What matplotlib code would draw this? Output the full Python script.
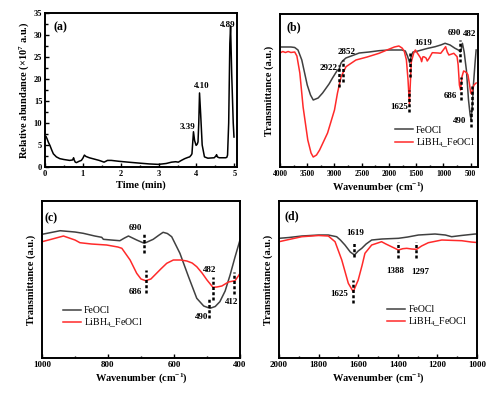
import matplotlib
matplotlib.use("Agg")
import matplotlib.pyplot as plt
from matplotlib.ticker import MultipleLocator, NullFormatter

plt.rcParams['font.family'] = ['Liberation Serif', 'DejaVu Serif']
plt.rcParams['mathtext.fontset'] = 'custom'
plt.rcParams['mathtext.rm'] = 'Liberation Serif'
plt.rcParams['mathtext.bf'] = 'Liberation Serif:bold'
plt.rcParams['mathtext.it'] = 'Liberation Serif:italic'

# ---------------- data ----------------
# (a) chromatogram
time_min = [0.0, 0.02, 0.05, 0.09, 0.13, 0.18, 0.22, 0.3, 0.39, 0.5, 0.65, 0.73, 0.755, 0.77, 0.8,
            0.83, 0.9, 0.96, 1.0, 1.04, 1.08, 1.17, 1.3, 1.43, 1.56, 1.65, 1.75, 1.95, 2.2, 2.47,
            2.75, 2.99, 3.1, 3.2, 3.34, 3.45, 3.52, 3.6, 3.69, 3.78, 3.82, 3.86, 3.88, 3.9, 3.92,
            3.95, 3.99, 4.02, 4.04, 4.06, 4.08, 4.11, 4.15, 4.21, 4.30, 4.47, 4.52, 4.53, 4.55,
            4.60, 4.77, 4.8, 4.82, 4.85, 4.88, 4.9, 4.93, 4.97, 4.99]
abundance = [6.8, 7.0, 6.5, 5.6, 4.9, 3.8, 3.0, 2.3, 1.9, 1.7, 1.5, 1.6, 2.1, 1.6, 1.1,
             1.0, 1.3, 1.5, 2.0, 2.7, 2.4, 2.1, 1.8, 1.5, 1.1, 1.5, 1.5, 1.3, 1.1, 0.9,
             0.7, 0.6, 0.7, 0.8, 1.1, 1.2, 1.1, 1.5, 1.9, 2.2, 2.3, 2.7, 3.0, 5.5, 8.0,
             6.0, 4.9, 5.2, 5.7, 10.0, 16.8, 12.0, 5.0, 2.3, 2.0, 2.1, 2.6, 2.8, 2.3,
             2.1, 2.1, 2.2, 2.7, 10.0, 28.0, 32.0, 21.0, 10.0, 6.8]
peak_times = [3.39, 4.10, 4.89]
peak_label_pos = [(3.76, 9.0), (4.14, 18.3), (4.82, 32.2)]

# (b) full FTIR 4000-400
b_wn_feocl = [3990, 3800, 3730, 3670, 3600, 3500, 3440, 3390, 3300, 3218, 3100, 3036, 2945, 2922,
              2900, 2879, 2852, 2790, 2727, 2545, 2364, 2182, 2000, 1855, 1764, 1700, 1660, 1619,
              1590, 1560, 1515, 1400, 1300, 1152, 1050, 970, 879, 788, 727, 690, 670, 652, 620,
              579, 540, 510, 490, 470, 450, 420, 400]
b_t_feocl = [120, 120, 119.5, 117, 107, 82, 72, 67, 69, 74, 83, 89, 97, 96,
             101, 104, 106, 109, 110.3, 114, 115, 116.3, 117, 117, 117, 116, 111, 104,
             111, 115, 115.3, 117, 118.5, 120.3, 122, 123.7, 122, 118.7, 117, 115, 119, 123.7, 115,
             97, 67, 52, 47, 62, 82, 104, 117]
b_wn_li = [3990, 3950, 3900, 3850, 3800, 3730, 3690, 3636, 3576, 3490, 3430, 3390, 3330, 3273, 3127,
           3000, 2945, 2879, 2788, 2606, 2400, 2182, 2036, 1900, 1818, 1760, 1720, 1680, 1650,
           1625, 1605, 1590, 1570, 1540, 1515, 1480, 1455, 1420, 1400, 1380, 1360, 1320, 1297,
           1260, 1205, 1100, 1050, 990, 960, 930, 900, 810, 750, 730, 707, 686, 670, 660, 630,
           600, 570, 550, 520, 500, 482, 460, 440, 400]
b_t_li = [114.3, 115.5, 114.5, 115.5, 114.5, 115, 111, 94, 60, 27, 14, 10, 12, 17, 34,
          57, 74, 90.3, 100.3, 107, 110, 113.7, 117, 120, 121, 119, 116, 107, 87,
          63, 87, 105, 109, 115, 117, 114, 112, 109, 105.3, 110, 110.3, 109, 106,
          109, 114.3, 114, 113.7, 118, 120.3, 115, 112, 113.7, 110.3, 102, 82, 77, 85, 90.3, 96,
          95.3, 94, 92, 82, 74, 73, 79, 82, 84]

# (c) FTIR 1000-400
c_wn_feocl = [1000, 980, 945, 900, 875, 840, 819, 814, 790, 764, 750, 738, 713, 690, 663, 645,
              633, 620, 607, 582, 556, 531, 510, 491, 475, 461, 445, 430, 415, 400]
c_t_feocl = [123.7, 125, 127.3, 126, 124.7, 122, 120.7, 118.7, 118, 117.3, 120, 122, 118, 114.7,
             118.7, 123, 125.7, 124.5, 121.3, 104.7, 81.3, 59.7, 52, 49.7, 51.5, 56.3, 67, 83,
             101, 118]
c_wn_li = [1000, 980, 935, 900, 885, 850, 804, 770, 758, 733, 713, 700, 686, 670, 658, 640,
           622, 602, 580, 561, 545, 531, 515, 500, 482, 470, 455, 435, 415, 405, 400]
c_t_li = [116.3, 118, 122, 118, 115.3, 114, 113, 111, 109.7, 98, 84.7, 79, 77.3, 79, 83, 89,
          94.7, 98, 98, 97, 95, 91.3, 85, 78, 70.7, 71, 72, 76, 77.3, 82, 84.7]

# (d) FTIR 2000-1000
d_wn_feocl = [2000, 1950, 1885, 1800, 1751, 1709, 1690, 1667, 1640, 1619, 1600, 1582, 1560,
              1532, 1480, 1397, 1350, 1296, 1212, 1160, 1128, 1080, 1010, 1000]
d_t_feocl = [119.7, 120.5, 122, 123, 123, 121.3, 118, 113, 106, 103, 107, 109.7, 114,
             118, 119, 119.7, 121, 123, 124, 123, 121.3, 122.5, 124, 124]
d_wn_li = [2000, 1950, 1885, 1800, 1751, 1717, 1683, 1650, 1625, 1600, 1580, 1566, 1532, 1482,
           1460, 1439, 1397, 1375, 1355, 1330, 1305, 1280, 1246, 1178, 1077, 1030, 1000]
d_t_li = [116.3, 118.5, 121.3, 122.5, 122, 116.3, 98, 74.7, 66.3, 78, 93, 104.7, 113, 116.3,
          114, 112, 108, 109.3, 109.7, 109, 108.7, 112, 115.3, 118, 117.3, 116, 115.5]

series_names = ['FeOCl', 'LiBH$_4$_FeOCl']
gray = '#404040'
red = '#ff2a2a'

# annotations: (label, x of dashes, y0, y1, text x, text y, ha)
b_marks = [('2922', 2922, 80, 102, 2950, 99, 'right'),
           ('2852', 2852, 85, 107, 2770, 115, 'center'),
           ('1619', 1619, 90, 115, 1375, 124, 'center'),
           ('1625', 1625, 55, 77, 1821, 60, 'center'),
           ('690', 690, 105, 127, 806, 134, 'center'),
           ('482', 482, 57, 82, 518, 133, 'center'),
           ('686', 686, 67, 90, 880, 71, 'center'),
           ('490', 490, 40, 57, 696, 46, 'center')]
c_marks = [('690', 690, 105, 126, 718, 130, 'center'),
           ('686', 686, 65, 88, 718, 66, 'center'),
           ('482', 482, 58, 81, 492, 88, 'center'),
           ('490', 493, 40, 60, 517, 41, 'center'),
           ('412', 417, 64, 86, 425, 56, 'center')]
d_marks = [('1619', 1619, 101, 116, 1614, 125, 'center'),
           ('1625', 1628, 55, 78, 1697, 64, 'center'),
           ('1388', 1397, 100, 116, 1414, 87, 'center'),
           ('1297', 1310, 100, 116, 1285, 86, 'center')]

# ---------------- figure ----------------
fig = plt.figure(figsize=(4.94, 3.94), dpi=100)
axa = fig.add_axes([0.0911, 0.5761, 0.3887, 0.3917])
axb = fig.add_axes([0.5668, 0.5761, 0.3998, 0.3884])
axc = fig.add_axes([0.0850, 0.0914, 0.4008, 0.3984])
axd = fig.add_axes([0.5648, 0.0914, 0.4008, 0.3984])

def style(ax, size):
    for s in ax.spines.values():
        s.set_linewidth(1.4)
    ax.tick_params(which='both', direction='in', width=1.0, labelsize=size, pad=2)
    ax.tick_params(which='major', length=3)
    ax.tick_params(which='minor', length=1.8)
    for lab in ax.get_xticklabels() + ax.get_yticklabels():
        lab.set_fontweight('bold')

# (a)
axa.plot(time_min, abundance, color='black', lw=1.1)
axa.set_xlim(0, 5.07)
axa.set_ylim(0, 35)
axa.xaxis.set_major_locator(MultipleLocator(1))
axa.xaxis.set_minor_locator(MultipleLocator(0.5))
axa.yaxis.set_major_locator(MultipleLocator(5))
axa.yaxis.set_minor_locator(MultipleLocator(2.5))
style(axa, 6)
axa.set_xlabel('Time (min)', fontsize=7.5, fontweight='bold', labelpad=2)
axa.set_ylabel(r'Relative abundance (×10$^{\mathbf{7}}$ a.u.)', fontsize=7.5, fontweight='bold', labelpad=2)
axa.text(0.23, 31.7, '(a)', fontsize=8.5, fontweight='bold', va='center')
for pt, (lx, ly) in zip(peak_times, peak_label_pos):
    axa.text(lx, ly, f'{pt:.2f}', fontsize=6.5, fontweight='bold', ha='center', va='center')

def ftir(ax, wn1, t1, wn2, t2, marks, xlim, major, minor, tsize, leg_anchor):
    ax.plot(wn1, t1, color=gray, lw=1.1, label=series_names[0])
    ax.plot(wn2, t2, color=red, lw=1.1, label=series_names[1])
    ax.set_xlim(*xlim)
    ax.set_ylim(0, 153 if ax is axb else 157)
    ax.xaxis.set_major_locator(MultipleLocator(major))
    ax.xaxis.set_minor_locator(MultipleLocator(minor))
    ax.set_yticks([])
    style(ax, tsize)
    ax.set_xlabel(r'Wavenumber (cm$^{\mathbf{-1}}$)', fontsize=7.5, fontweight='bold', labelpad=2)
    ax.set_ylabel('Transmittance (a.u.)', fontsize=7.5, fontweight='bold', labelpad=4)
    for lab, x, y0, y1, tx, ty, ha in marks:
        ax.plot([x, x], [y0, y1], color='black', lw=1.8, ls=(0, (1.2, 0.9)))
        ax.text(tx, ty, lab, fontsize=6.5, fontweight='bold', ha=ha, va='center')
    ax.legend(loc='upper left', bbox_to_anchor=leg_anchor, frameon=False, fontsize=7,
              handlelength=1.9, handletextpad=0.3, labelspacing=0.15, borderaxespad=0,
              borderpad=0)

ftir(axb, b_wn_feocl, b_t_feocl, b_wn_li, b_t_li, b_marks, (4000, 375), 500, 250, 5.5, (0.58, 0.27))
axb.text(3872, 140, '(b)', fontsize=8.5, fontweight='bold', va='center')
ftir(axc, c_wn_feocl, c_t_feocl, c_wn_li, c_t_li, c_marks, (1000, 400), 200, 100, 6.5, (0.105, 0.33))
axc.text(991, 140, '(c)', fontsize=8.5, fontweight='bold', va='center')
ftir(axd, d_wn_feocl, d_t_feocl, d_wn_li, d_t_li, d_marks, (2000, 1000), 200, 100, 6.5, (0.545, 0.335))
axd.text(1970, 142, '(d)', fontsize=8.5, fontweight='bold', va='center')

fig.savefig('out.png', dpi=100)
